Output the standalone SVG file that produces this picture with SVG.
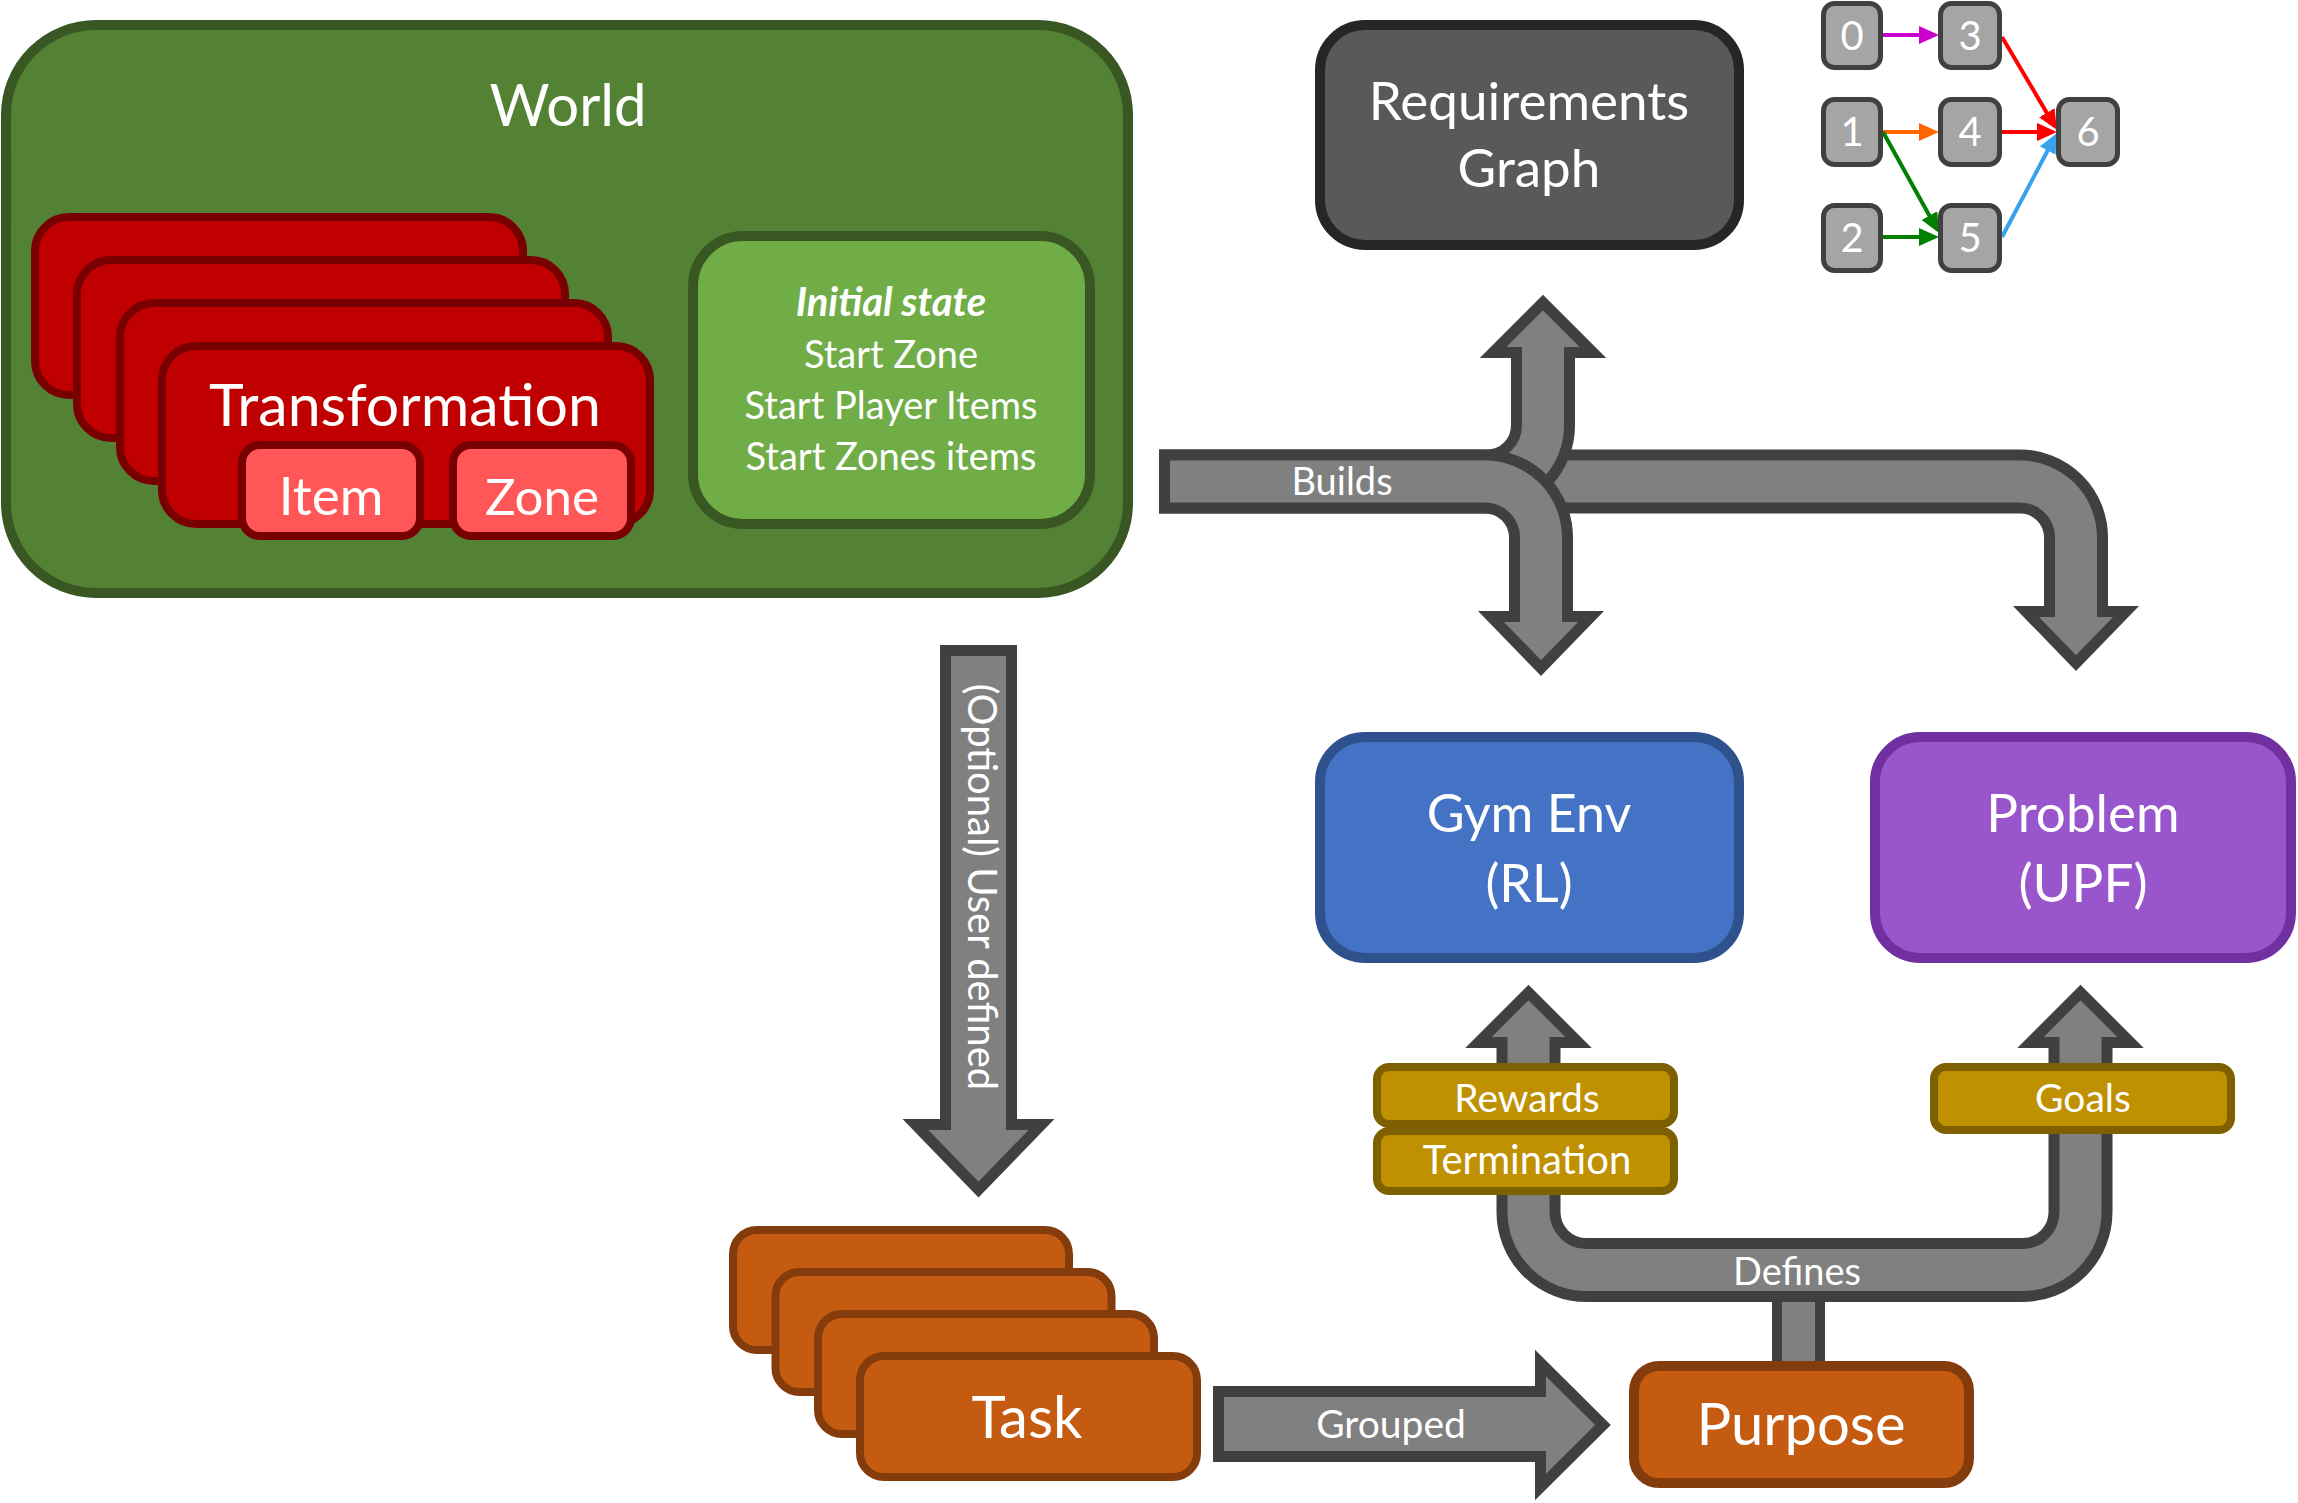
<svg xmlns="http://www.w3.org/2000/svg" width="2298" height="1503" viewBox="0 0 2298 1503">
<defs>
<style>
.t{font-family:Lato,"Open Sans","Liberation Sans",sans-serif;fill:#ffffff;text-anchor:middle}
.world{fill:#548235;stroke:#385723;stroke-width:10}
.init{fill:#70AD47;stroke:#385723;stroke-width:10}
.card{fill:#C00000;stroke:#780000;stroke-width:8}
.sub{fill:#FF5757;stroke:#780000;stroke-width:8}
.req{fill:#595959;stroke:#262626;stroke-width:10}
.gym{fill:#4472C4;stroke:#2F528F;stroke-width:10}
.prob{fill:#9955CC;stroke:#7030A0;stroke-width:10}
.gold{fill:#BF9000;stroke:#7F6000;stroke-width:8}
.org{fill:#C55A11;stroke:#843C0C;stroke-width:8}
.org10{fill:#C55A11;stroke:#843C0C;stroke-width:10}
.gn{fill:#A5A5A5;stroke:#404040;stroke-width:5}
.ao{fill:none;stroke:#404040;stroke-width:64}
.ai{fill:none;stroke:#808080;stroke-width:42}
.ah{fill:#808080;stroke:#404040;stroke-width:11;stroke-linejoin:miter;stroke-miterlimit:10}
.e{fill:none;stroke-width:4}
</style>
<marker id="mM" markerUnits="userSpaceOnUse" markerWidth="20" markerHeight="18" refX="10" refY="9" orient="auto"><path d="M0,0 L20,9 L0,18 z" fill="#CC00CC"/></marker>
<marker id="mO" markerUnits="userSpaceOnUse" markerWidth="20" markerHeight="18" refX="10" refY="9" orient="auto"><path d="M0,0 L20,9 L0,18 z" fill="#FF6600"/></marker>
<marker id="mG" markerUnits="userSpaceOnUse" markerWidth="20" markerHeight="18" refX="10" refY="9" orient="auto"><path d="M0,0 L20,9 L0,18 z" fill="#008000"/></marker>
<marker id="mR" markerUnits="userSpaceOnUse" markerWidth="20" markerHeight="18" refX="10" refY="9" orient="auto"><path d="M0,0 L20,9 L0,18 z" fill="#FF0000"/></marker>
<marker id="mB" markerUnits="userSpaceOnUse" markerWidth="20" markerHeight="18" refX="10" refY="9" orient="auto"><path d="M0,0 L20,9 L0,18 z" fill="#36A2EC"/></marker>
</defs>
<rect width="2298" height="1503" fill="#ffffff"/>

<g id="world">
<rect class="world" x="6" y="25" width="1122" height="568" rx="90"/>
<text class="t" x="568" y="126" font-size="58">World</text>
<g id="transformations">
<rect class="card" x="35" y="217" width="488" height="178" rx="34"/>
<rect class="card" x="77" y="260" width="488" height="178" rx="34"/>
<rect class="card" x="120" y="303" width="488" height="178" rx="34"/>
<rect class="card" x="162" y="346" width="488" height="178" rx="34"/>
<text class="t" x="405" y="426" font-size="59">Transformation</text>
</g>
<g id="item">
<rect class="sub" x="242" y="445" width="178" height="91" rx="18"/>
<text class="t" x="331" y="515" font-size="53">Item</text>
</g>
<g id="zone">
<rect class="sub" x="453" y="445" width="178" height="91" rx="18"/>
<text class="t" x="542" y="515" font-size="51">Zone</text>
</g>
<g id="initial-state">
<rect class="init" x="693" y="236" width="397" height="288" rx="50"/>
<text class="t" x="891" y="316" font-size="40" font-weight="bold" font-style="italic">Initial state</text>
<text class="t" x="891" y="368" font-size="38">Start Zone</text>
<text class="t" x="891" y="419" font-size="38">Start Player Items</text>
<text class="t" x="891" y="470" font-size="38">Start Zones items</text>
</g>
</g>

<g id="connectors">
<!-- Builds: right branch -->
<path class="ao" d="M1492,481.5 H2020 A56 56 0 0 1 2076,537.5 V612"/>
<path class="ah" d="M2026,611.5 H2126 L2076,663 Z"/>
<path class="ai" d="M1492,481.5 H2020 A56 56 0 0 1 2076,537.5 V622"/>
<!-- Builds: up branch -->
<path class="ao" d="M1159,481.5 H1487 A56 56 0 0 0 1543,425.5 V352"/>
<path class="ah" d="M1493,352.5 H1593 L1543,302.5 Z"/>
<path class="ai" d="M1170,481.5 H1487 A56 56 0 0 0 1543,425.5 V342"/>
<!-- Builds: down branch -->
<path class="ao" d="M1159,481.5 H1485 A56 56 0 0 1 1541,537.5 V617"/>
<path class="ah" d="M1491,616.5 H1591 L1541,668 Z"/>
<path class="ai" d="M1170,481.5 H1485 A56 56 0 0 1 1541,537.5 V627"/>
<text class="t" x="1342" y="495" font-size="38">Builds</text>

<!-- Optional user defined -->
<path class="ah" d="M945.5,650.5 H1011.5 V1124.5 H1041.5 L978.5,1189.5 L915.5,1124.5 H945.5 Z"/>
<text class="t" x="887" y="968" font-size="40" transform="rotate(90 968 887) translate(81 -81)">(Optional) User defined</text>

<!-- Grouped -->
<path class="ah" d="M1218.5,1391.5 H1540.5 V1363 L1603,1425 L1540.5,1487 V1456.5 H1218.5 Z"/>
<text class="t" x="1391" y="1438" font-size="39">Grouped</text>

<!-- Defines -->
<path d="M1798.5,1280 V1370" fill="none" stroke="#404040" stroke-width="53"/>
<path d="M1798.5,1280 V1370" fill="none" stroke="#808080" stroke-width="33"/>
<path class="ao" d="M1528.5,1044 V1212 A58 58 0 0 0 1586.5,1270 H2022.5 A58 58 0 0 0 2080.5,1212 V1044"/>
<path class="ah" d="M1478.5,1042.5 H1578.5 L1528.5,992.5 Z"/>
<path class="ah" d="M2030.5,1042.5 H2130.5 L2080.5,992.5 Z"/>
<path class="ai" d="M1528.5,1034 V1212 A58 58 0 0 0 1586.5,1270 H2022.5 A58 58 0 0 0 2080.5,1212 V1034"/>
<text class="t" x="1797" y="1285" font-size="38">Defines</text>

<!-- requirements graph edges -->
<line class="e" stroke="#CC00CC" x1="1883" y1="35" x2="1929" y2="35" marker-end="url(#mM)"/>
<line class="e" stroke="#FF6600" x1="1883" y1="132" x2="1929" y2="132" marker-end="url(#mO)"/>
<line class="e" stroke="#008000" x1="1883" y1="132" x2="1934.2" y2="224.3" marker-end="url(#mG)"/>
<line class="e" stroke="#008000" x1="1883" y1="237" x2="1929" y2="237" marker-end="url(#mG)"/>
<line class="e" stroke="#FF0000" x1="2002" y1="37" x2="2051.9" y2="121.4" marker-end="url(#mR)"/>
<line class="e" stroke="#FF0000" x1="2002" y1="132" x2="2047" y2="132" marker-end="url(#mR)"/>
<line class="e" stroke="#36A2EC" x1="2002" y1="237" x2="2052.3" y2="141.8" marker-end="url(#mB)"/>
</g>

<g id="requirements-graph">
<rect class="req" x="1320" y="25" width="419" height="220" rx="45"/>
<text class="t" x="1529" y="120" font-size="53">Requirements</text>
<text class="t" x="1529" y="187" font-size="53">Graph</text>
</g>

<g id="graph-nodes">
<g id="n0"><rect class="gn" x="1823.5" y="3.5" width="57" height="64" rx="11"/><text class="t" x="1852" y="50" font-size="40">0</text></g>
<g id="n3"><rect class="gn" x="1940.5" y="3.5" width="59" height="64" rx="11"/><text class="t" x="1970" y="50" font-size="40">3</text></g>
<g id="n1"><rect class="gn" x="1823.5" y="99.5" width="57" height="65" rx="11"/><text class="t" x="1852" y="146" font-size="40">1</text></g>
<g id="n4"><rect class="gn" x="1940.5" y="99.5" width="59" height="65" rx="11"/><text class="t" x="1970" y="146" font-size="40">4</text></g>
<g id="n6"><rect class="gn" x="2058.5" y="99.5" width="59" height="65" rx="11"/><text class="t" x="2088" y="146" font-size="40">6</text></g>
<g id="n2"><rect class="gn" x="1823.5" y="205.5" width="57" height="65" rx="11"/><text class="t" x="1852" y="252" font-size="40">2</text></g>
<g id="n5"><rect class="gn" x="1940.5" y="205.5" width="59" height="65" rx="11"/><text class="t" x="1970" y="252" font-size="40">5</text></g>
</g>

<g id="gym-env">
<rect class="gym" x="1320" y="737" width="419" height="221" rx="45"/>
<text class="t" x="1529" y="832" font-size="52">Gym Env</text>
<text class="t" x="1529" y="902" font-size="52">(RL)</text>
</g>

<g id="problem">
<rect class="prob" x="1875" y="737" width="416" height="221" rx="45"/>
<text class="t" x="2083" y="832" font-size="53">Problem</text>
<text class="t" x="2083" y="902" font-size="53">(UPF)</text>
</g>

<g id="rewards">
<rect class="gold" x="1377" y="1067" width="297" height="57" rx="12"/>
<text class="t" x="1527" y="1112" font-size="39">Rewards</text>
</g>
<g id="termination">
<rect class="gold" x="1377" y="1131" width="297" height="60" rx="12"/>
<text class="t" x="1527" y="1174" font-size="40">Termination</text>
</g>
<g id="goals">
<rect class="gold" x="1934" y="1067" width="297" height="63" rx="12"/>
<text class="t" x="2083" y="1112" font-size="39">Goals</text>
</g>

<g id="tasks">
<rect class="org" x="733" y="1230" width="336" height="120" rx="24"/>
<rect class="org" x="775.5" y="1272" width="336" height="120" rx="24"/>
<rect class="org" x="818" y="1314" width="336" height="120" rx="24"/>
<rect class="org" x="860" y="1356" width="337" height="121" rx="24"/>
<text class="t" x="1027" y="1438" font-size="58">Task</text>
</g>

<g id="purpose">
<rect class="org10" x="1634" y="1366" width="335" height="117" rx="25"/>
<text class="t" x="1801" y="1445" font-size="58">Purpose</text>
</g>
</svg>
